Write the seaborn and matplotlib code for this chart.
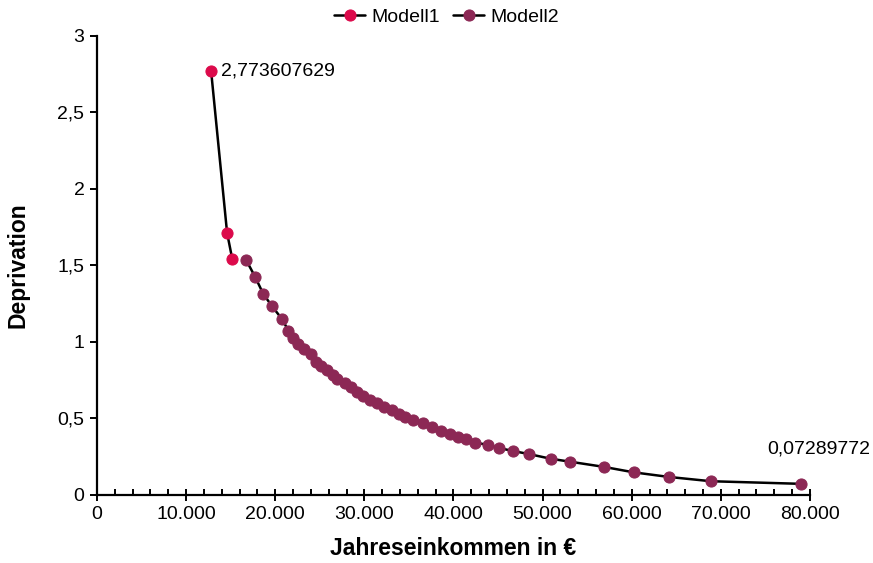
import matplotlib
matplotlib.use("Agg")
import matplotlib.pyplot as plt
import matplotlib.ticker as mticker
import seaborn as sns
import pandas as pd

# Data
modell1_x = [12800, 14600, 15170]
modell1_y = [2.773607629, 1.712, 1.545]

modell2_x = [16740, 17750, 18650, 19660, 20790, 21460, 22020, 22580, 23260, 24050,
             24610, 25170, 25840, 26520, 26970, 27870, 28540, 29210, 29890, 30670,
             31460, 32250, 33150, 33930, 34610, 35510, 36630, 37640, 38650, 39660,
             40560, 41350, 42470, 43820, 45060, 46630, 48430, 50900, 53030, 56850,
             60230, 64160, 68880, 78990]
modell2_y = [1.535, 1.425, 1.315, 1.232, 1.148, 1.075, 1.028, 0.988, 0.952, 0.922,
             0.872, 0.845, 0.817, 0.786, 0.755, 0.733, 0.707, 0.676, 0.645, 0.624,
             0.603, 0.578, 0.553, 0.532, 0.507, 0.488, 0.468, 0.442, 0.421, 0.401,
             0.382, 0.367, 0.343, 0.327, 0.308, 0.288, 0.268, 0.237, 0.218, 0.184,
             0.148, 0.118, 0.090, 0.07289772]

label_first = "2,773607629"
label_last = "0,07289772"

col1 = "#dc0a4b"
col2 = "#8c2855"

sns.set_theme(style="white")
plt.rcParams['font.family'] = ['Liberation Sans', 'DejaVu Sans']
plt.rcParams['text.color'] = 'black'
plt.rcParams['axes.labelcolor'] = 'black'

fig = plt.figure(figsize=(8.73, 5.63), dpi=100)
ax = fig.add_axes([0.1111, 0.1208, 0.8167, 0.8153])

df1 = pd.DataFrame({"x": modell1_x, "y": modell1_y})
df2 = pd.DataFrame({"x": modell2_x, "y": modell2_y})

sns.lineplot(data=df1, x="x", y="y", ax=ax, color="black", lw=1.8, marker="o",
             markersize=8, markerfacecolor=col1, markeredgecolor=col1,
             label="Modell1", sort=False)
sns.lineplot(data=df2, x="x", y="y", ax=ax, color="black", lw=1.8, marker="o",
             markersize=8, markerfacecolor=col2, markeredgecolor=col2,
             label="Modell2", sort=False)

ax.annotate(label_first, (modell1_x[0], modell1_y[0]), xytext=(7, 0),
            textcoords="offset points", ha="left", va="center", fontsize=14,
            color="black")
ax.annotate(label_last, (modell2_x[-1], modell2_y[-1]), xytext=(13, 25),
            textcoords="offset points", ha="center", va="center", fontsize=14,
            color="black")

ax.set_xlim(0, 80000)
ax.set_ylim(0, 3)

ax.xaxis.set_major_locator(mticker.MultipleLocator(10000))
ax.xaxis.set_minor_locator(mticker.MultipleLocator(2000))
ax.yaxis.set_major_locator(mticker.MultipleLocator(0.5))
ax.xaxis.set_major_formatter(mticker.FuncFormatter(lambda v, p: f"{int(v):,}".replace(",", ".")))
ax.yaxis.set_major_formatter(mticker.FuncFormatter(lambda v, p: (f"{v:g}").replace(".", ",")))

for s in ["top", "right"]:
    ax.spines[s].set_visible(False)
for s in ["left", "bottom"]:
    ax.spines[s].set_color("black")
    ax.spines[s].set_linewidth(1.6)

ax.tick_params(axis="x", which="major", direction="inout", length=8, width=1.4,
               colors="black", labelsize=14, pad=4, bottom=True)
ax.tick_params(axis="x", which="minor", direction="in", length=4, width=1.4,
               colors="black", bottom=True)
ax.tick_params(axis="y", which="major", direction="out", length=5, width=1.4,
               colors="black", labelsize=14, pad=4, left=True)

ax.set_xlabel("Jahreseinkommen in €", fontsize=16.5, fontweight="bold", labelpad=10,
              color="black")
ax.set_ylabel("Deprivation", fontsize=16.5, fontweight="bold", labelpad=20,
              color="black")

leg = ax.legend(loc="upper center", bbox_to_anchor=(0.49, 1.078), ncol=2, frameon=False,
                fontsize=14, handlelength=1.6, handletextpad=0.3, columnspacing=0.7,
                borderaxespad=0)
for t in leg.get_texts():
    t.set_color("black")

ax.grid(False)
fig.savefig("out.png", dpi=100)
